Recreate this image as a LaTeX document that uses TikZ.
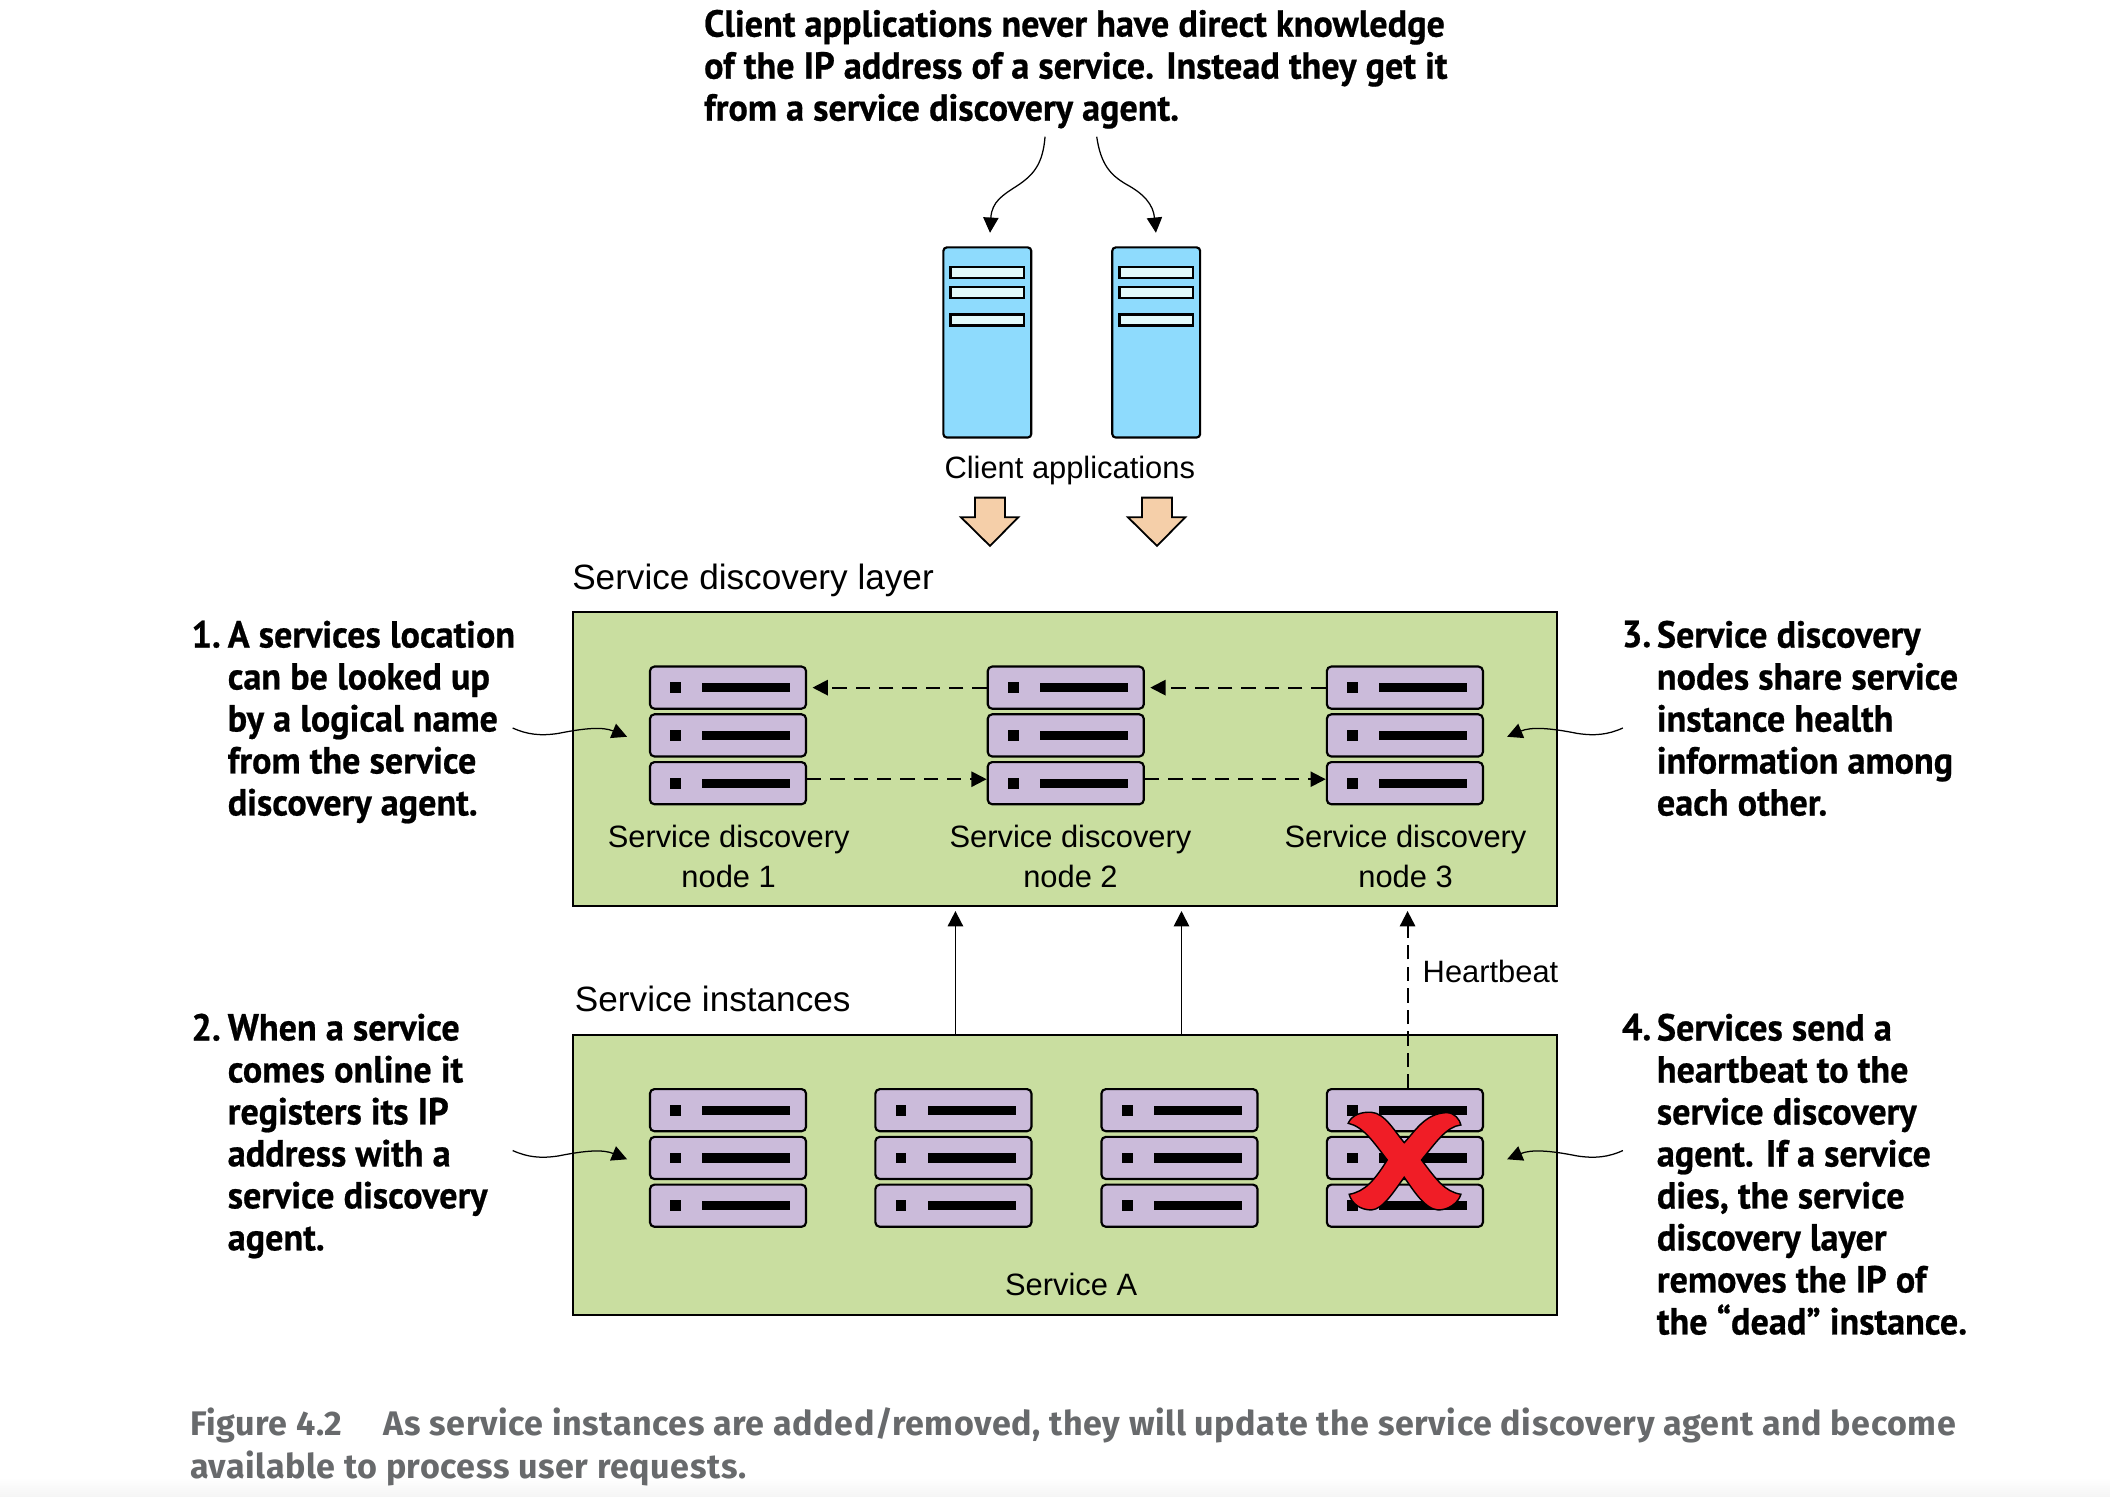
\documentclass[tikz,border=0pt]{standalone}
\usepackage{fontspec}
\usepackage{xcolor}
\setmainfont{Liberation Sans}
\newfontfamily\notefont[FakeStretch=0.96,BoldFeatures={FakeBold=0.6}]{PT Sans}
\newfontfamily\capfont[LetterSpace=1.7]{Fira Sans}
\usetikzlibrary{arrows.meta}

\definecolor{layergreen}{HTML}{C9DEA0}
\definecolor{rackpurple}{HTML}{CBBBDA}
\definecolor{clientblue}{HTML}{8EDBFD}
\definecolor{slotblue}{HTML}{E2FAFB}
\definecolor{arrowpeach}{HTML}{F5CFA9}
\definecolor{crossred}{HTML}{F01D26}
\definecolor{captiongray}{HTML}{686A6C}

\tikzset{
	tip/.style={-{Triangle[length=8.5pt,width=8.5pt]}},
	curvy/.style={tip,line width=0.7pt},
	dashline/.style={tip,dash pattern=on 8pt off 5pt,line width=1.1pt},
	layerbox/.style={draw,line width=1.1pt,fill=layergreen,minimum width=548pt,inner sep=0pt},
	rackunit/.style={draw,line width=1.2pt,rounded corners=2.5pt,fill=rackpurple,minimum width=87pt,minimum height=23.5pt,inner sep=0pt},
	clientbox/.style={draw,line width=1.2pt,rounded corners=2pt,fill=clientblue,minimum width=49pt,minimum height=106pt,inner sep=0pt},
	slotbox/.style={draw,line width=1.2pt,fill=slotblue,minimum width=41pt,minimum height=6.2pt,inner sep=0pt},
	label/.style={align=center,inner sep=0pt,font=\fontsize{17.2}{22.5}\selectfont},
	heading/.style={anchor=west,inner sep=0pt,font=\fontsize{19.6}{23}\selectfont},
	note/.style={anchor=north west,align=left,inner sep=0pt,font=\notefont\bfseries\fontsize{21}{23.4}\selectfont},
	caption/.style={anchor=north west,align=left,inner sep=0pt,text=captiongray,font=\capfont\bfseries\fontsize{19}{24}\selectfont}
}

% one shelf of a rack, with its square and its bar
\newcommand{\shelf}[3]{
	\node[rackunit] (#1) at (#2,#3) {};
	\fill (#2-38.9,#3) +(-4,-4) rectangle +(4,4);
	\fill (#2+13.6,#3) +(-32.7,-3.4) rectangle +(32.7,3.4);
}

\begin{document}
\begin{tikzpicture}[x=0.75pt,y=-0.75pt]
	\useasboundingbox (0,0) rectangle (1568,1112);
	\fill[white] (0,0) rectangle (1568,1112);
	\shade[top color=white,bottom color=black!4] (0,1098) rectangle (1568,1112);

	% Top note and the client machines
	\node[note] (topnote) at (523,7) {Client applications never have direct knowledge\\of the IP address of a service. Instead they get it\\from a service discovery agent.};
	\foreach \name/\x in {clientA/733.7,clientB/859.2} {
		\node[clientbox] (\name) at (\x,254.5) {};
		\foreach \y in {202.6,217.5,237.8}
			\node[slotbox] at (\x,\y) {};
	}
	\node[label] (clientlabel) at (795,350) {Client applications};
	\coordinate (noteA) at (776.6,101.6);
	\coordinate (noteB) at (815,101.6);
	\coordinate (clientAtop) at (735.7,173);
	\coordinate (clientBtop) at (859,173);
	\draw[curvy] (noteA) .. controls (775,122) and (768,130) .. (756,138) .. controls (745,145) and (737,150) .. (clientAtop);
	\draw[curvy] (noteB) .. controls (818,122) and (825,130) .. (837,137) .. controls (850,144) and (857,152) .. (clientBtop);

	% Block arrows
	\foreach \x in {735.7,859.8}
		\draw[line width=1pt,fill=arrowpeach] (\x-11.2,369.8) -- (\x+11.1,369.8) -- (\x+11.1,384.4) -- (\x+21,384.4) -- (\x,405.7) -- (\x-21.6,384.4) -- (\x-11.2,384.4) -- cycle;

	% Service discovery layer
	\node[heading] (layerlabel) at (425,431) {Service discovery layer};
	\node[layerbox,minimum height=163.5pt] (layer) at (791.5,564) {};
	\foreach \c/\x in {1/541,2/792,3/1044} {
		\shelf{disc\c a}{\x}{511}
		\shelf{disc\c b}{\x}{546.5}
		\shelf{disc\c c}{\x}{582}
	}
	\node[label] at (541.5,636.5) {Service discovery\\node 1};
	\node[label] at (795.5,636.5) {Service discovery\\node 2};
	\node[label] at (1044.5,636.5) {Service discovery\\node 3};
	\draw[dashline] (disc2a.west) -- ([xshift=3pt]disc1a.east);
	\draw[dashline] (disc3a.west) -- ([xshift=3pt]disc2a.east);
	\draw[dashline] ([yshift=2.2pt]disc1c.east) -- ([yshift=2.2pt]disc2c.west);
	\draw[dashline] ([yshift=2.2pt]disc2c.east) -- ([yshift=2.2pt]disc3c.west);

	% Service instances
	\node[heading] (instlabel) at (427,742.5) {Service instances};
	\node[layerbox,minimum height=156pt] (inst) at (791.5,873) {};
	\foreach \c/\x in {1/541,2/708.5,3/876.5,4/1044} {
		\shelf{inst\c a}{\x}{825}
		\shelf{inst\c b}{\x}{860.5}
		\shelf{inst\c c}{\x}{896}
	}
	\node[label] at (796,954.5) {Service A};

	% Heartbeats
	\coordinate (beatA) at (710,769);
	\coordinate (beatB) at (878,769);
	\coordinate (beatC) at (1046,809);
	\coordinate (layerA) at (710,677);
	\coordinate (layerB) at (878,677);
	\coordinate (layerC) at (1046,677);
	\draw[tip,line width=1pt] (beatA) -- (layerA);
	\draw[tip,line width=1pt] (beatB) -- (layerB);
	\draw[dashline,dash pattern=on 8pt off 4pt] (beatC) -- (layerC);
	\node[label,anchor=west] (beatlabel) at (1057,722) {Heartbeat};

	% The dead instance
	\begin{scope}[shift={(1044,862)},x=0.1858pt,y=-0.1858pt]
		\draw[line width=0.8pt,fill=crossred] (-2,-52) .. controls (30,-85) and (60,-140) .. (125,-142) .. controls (150,-142) and (165,-120) .. (168,-105) .. controls (125,-100) and (95,-55) .. (50,0) .. controls (95,60) and (120,95) .. (168,103) .. controls (160,130) and (130,150) .. (100,150) .. controls (60,148) and (25,90) .. (-2,52) .. controls (-30,90) and (-65,148) .. (-100,150) .. controls (-135,150) and (-160,130) .. (-167,103) .. controls (-120,95) and (-90,60) .. (-53,0) .. controls (-95,-55) and (-125,-100) .. (-170,-110) .. controls (-160,-135) and (-130,-145) .. (-100,-143) .. controls (-60,-140) and (-30,-85) .. (-2,-52) -- cycle;
	\end{scope}

	% Side notes and their arrows
	\node[note] (num1) at (142,461) {1.};
	\node[note] (note1) at (169,461) {A services location\\can be looked up\\by a logical name\\from the service\\discovery agent.};
	\node[note] (num2) at (142,753) {2.};
	\node[note] (note2) at (169,753) {When a service\\comes online it\\registers its IP\\address with a\\service discovery\\agent.};
	\node[note] (num3) at (1205,461) {3.};
	\node[note] (note3) at (1231,461) {Service discovery\\nodes share service\\instance health\\information among\\each other.};
	\node[note] (num4) at (1205,753) {4.};
	\node[note] (note4) at (1231,753) {Services send a\\heartbeat to the\\service discovery\\agent. If a service\\dies, the service\\discovery layer\\removes the IP of\\the “dead” instance.};
	\foreach \y/\name in {0/A,314/B} {
		\coordinate (left\name) at (381,541+\y);
		\coordinate (leftend\name) at (466,547.5+\y);
		\coordinate (right\name) at (1206,541+\y);
		\coordinate (rightend\name) at (1120,547.5+\y);
		\draw[curvy] (left\name) .. controls (392,546+\y) and (402,547+\y) .. (415,545+\y) .. controls (435,541+\y) and (448,540+\y) .. (leftend\name);
		\draw[curvy] (right\name) .. controls (1195,546+\y) and (1185,547+\y) .. (1172,545+\y) .. controls (1152,541+\y) and (1138,540+\y) .. (rightend\name);
	}

	% Caption
	\node[caption] (figcaption) at (141,1045.5) {Figure 4.2\hspace{23pt}As service instances are added/removed, they will update the service discovery agent and become\\available to process user requests.};
\end{tikzpicture}
\end{document}
